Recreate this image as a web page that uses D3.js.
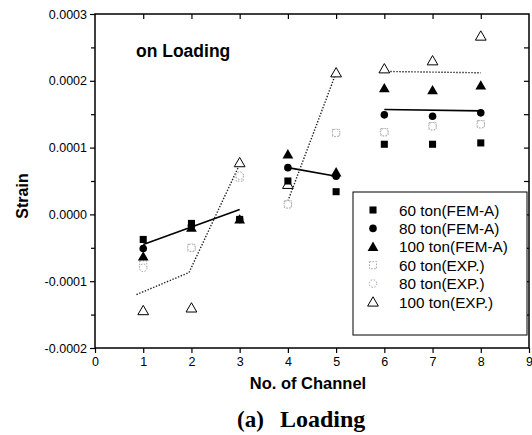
<!DOCTYPE html>
<html><head><meta charset="utf-8">
<script src="https://cdn.jsdelivr.net/npm/d3@7"></script>
<style>body{margin:0;background:#fff}svg{display:block}</style>
</head><body>
<svg id="c" width="532" height="435"></svg>
<script>
const channels = [1,2,3,4,5,6,7,8];
const fem60  = [-0.0000375,-0.0000135,-0.0000075,0.000050,0.000034,0.000105,0.000105,0.000107];
const fem80  = [-0.000051,-0.000017,-0.0000075,0.000070,0.000057,0.000149,0.000147,0.000152];
const fem100 = [-0.000063,-0.000020,-0.0000075,0.000090,0.000063,0.000189,0.000186,0.000193];
const exp60  = [-0.000075,-0.000050,0.000055,0.000015,0.000122,0.000123,0.000132,0.000135];
const exp80  = [-0.000080,-0.000050,0.000058,0.000015,0.000122,0.000123,0.000132,0.000135];
const exp100 = [-0.000144,-0.000140,0.0000775,0.000045,0.000212,0.000218,0.000230,0.000267];
const femFit = [[[1,-0.000045],[3,0.0000075]],[[4,0.000070],[5,0.000057]],[[6,0.000157],[8,0.000155]]];
const expFit = [[[0.86,-0.000120],[1.95,-0.000087],[3,0.000075]],[[4,0.000020],[5,0.000212]],[[6,0.000214],[8,0.000212]]];
const xTicks = [0,1,2,3,4,5,6,7,8,9];
const yTicks = [-0.0002,-0.0001,0,0.0001,0.0002,0.0003];
const yMinor = [-0.0002,-0.00015,-0.0001,-0.00005,0,0.00005,0.0001,0.00015,0.0002,0.00025,0.0003];
const legendLabels = ["60 ton(FEM-A)","80 ton(FEM-A)","100 ton(FEM-A)","60 ton(EXP.)","80 ton(EXP.)","100 ton(EXP.)"];

const svg = d3.select("#c");
const x = d3.scaleLinear().domain([0,9]).range([95,529]);
const y = d3.scaleLinear().domain([-0.0002,0.0003]).range([348,14]);
const font = "Arial, 'Liberation Sans', sans-serif";
const yFmt = v => d3.format(".4f")(v).replace("\u2212","-");

// frame
svg.append("rect").attr("x",x(0)).attr("y",y(0.0003)).attr("width",x(9)-x(0)).attr("height",y(-0.0002)-y(0.0003))
  .attr("fill","none").attr("stroke","#000").attr("stroke-width",1.5);

// bottom axis
const xb = svg.append("g").attr("transform",`translate(0,${y(-0.0002)})`)
  .call(d3.axisBottom(x).tickValues(xTicks).tickFormat(d3.format("d")).tickSize(5).tickPadding(4));
xb.select(".domain").remove();
xb.selectAll("text").attr("font-family",font).attr("font-size",12.5).attr("fill","#000");
xb.selectAll("line").attr("stroke-width",1.2);
// top ticks inward
svg.append("g").attr("transform",`translate(0,${y(0.0003)})`)
  .call(d3.axisBottom(x).tickValues(xTicks.slice(1,-1)).tickSize(5).tickFormat(""))
  .call(g=>g.select(".domain").remove()).selectAll("line").attr("stroke-width",1.2);
// left axis
const yl = svg.append("g").attr("transform",`translate(${x(0)},0)`)
  .call(d3.axisLeft(y).tickValues(yTicks).tickFormat(yFmt).tickSize(5).tickPadding(3));
yl.select(".domain").remove();
yl.selectAll("text").attr("font-family",font).attr("font-size",12.5).attr("fill","#000");
yl.selectAll("line").attr("stroke-width",1.2);
svg.append("g").attr("transform",`translate(${x(0)},0)`)
  .call(d3.axisLeft(y).tickValues(yMinor.filter(v=>!yTicks.includes(v))).tickSize(4).tickFormat(""))
  .call(g=>g.select(".domain").remove()).selectAll("line").attr("stroke-width",1.2);
// right ticks inward
svg.append("g").attr("transform",`translate(${x(9)},0)`)
  .call(d3.axisLeft(y).tickValues(yMinor.slice(1,-1)).tickSize(5).tickFormat(""))
  .call(g=>g.select(".domain").remove()).selectAll("line").attr("stroke-width",1.2);

// fit lines
const line = d3.line().x(d=>x(d[0])).y(d=>y(d[1]));
femFit.forEach(seg=>svg.append("path").attr("d",line(seg)).attr("fill","none").attr("stroke","#000").attr("stroke-width",1.6));
expFit.forEach(seg=>svg.append("path").attr("d",line(seg)).attr("fill","none").attr("stroke","#222").attr("stroke-width",1.4).attr("stroke-dasharray","1.4,1.6"));

// markers
function marker(g, type, filled, cx, cy){
  const sym = type==="square"?d3.symbolSquare:type==="circle"?d3.symbolCircle:d3.symbolTriangle;
  const size = type==="square"?50:type==="circle"?45:50;
  const p = g.append("path").attr("d",d3.symbol(sym,size)()).attr("transform",`translate(${cx},${cy+(type==="triangle"?1:0)})`);
  if(filled) p.attr("fill","#000");
  else p.attr("fill","#fff").attr("stroke",type==="triangle"?"#000":"#999").attr("stroke-width",type==="triangle"?1:0.9).attr("stroke-dasharray",type==="triangle"?null:"1.5,1.5");
}
const series = [
  {vals:exp60,type:"square",filled:false},
  {vals:exp80,type:"circle",filled:false},
  {vals:exp100,type:"triangle",filled:false},
  {vals:fem100,type:"triangle",filled:true},
  {vals:fem80,type:"circle",filled:true},
  {vals:fem60,type:"square",filled:true}
];
const mg = svg.append("g");
series.forEach(s=>channels.forEach((c,i)=>marker(mg,s.type,s.filled,x(c),y(s.vals[i]))));

// legend
const lg = svg.append("g");
lg.append("rect").attr("x",353).attr("y",192).attr("width",174).attr("height",143).attr("fill","#fff").attr("stroke","#000").attr("stroke-width",1);
const lt = [["square",true],["circle",true],["triangle",true],["square",false],["circle",false],["triangle",false]];
legendLabels.forEach((t,i)=>{
  const yy = 210 + i*18.4;
  marker(lg, lt[i][0], lt[i][1], 373, yy);
  lg.append("text").attr("x",399).attr("y",yy+5.5).text(t).attr("font-family",font).attr("font-size",15.3);
});

// texts
svg.append("text").attr("x",136).attr("y",57).text("on Loading").attr("font-family",font).attr("font-weight","bold").attr("font-size",17.5);
svg.append("text").attr("transform","translate(28,196) rotate(-90)").attr("text-anchor","middle").text("Strain").attr("font-family",font).attr("font-weight","bold").attr("font-size",16);
svg.append("text").attr("x",308).attr("y",389).attr("text-anchor","middle").text("No. of Channel").attr("font-family",font).attr("font-weight","bold").attr("font-size",16.5);
const ser = "'Liberation Serif', 'Times New Roman', serif";
svg.append("text").attr("x",237).attr("y",427).text("(a)").attr("font-family",ser).attr("font-weight","bold").attr("font-size",23);
svg.append("text").attr("x",280).attr("y",427).text("Loading").attr("font-family",ser).attr("font-weight","bold").attr("font-size",24);
</script>
</body></html>
